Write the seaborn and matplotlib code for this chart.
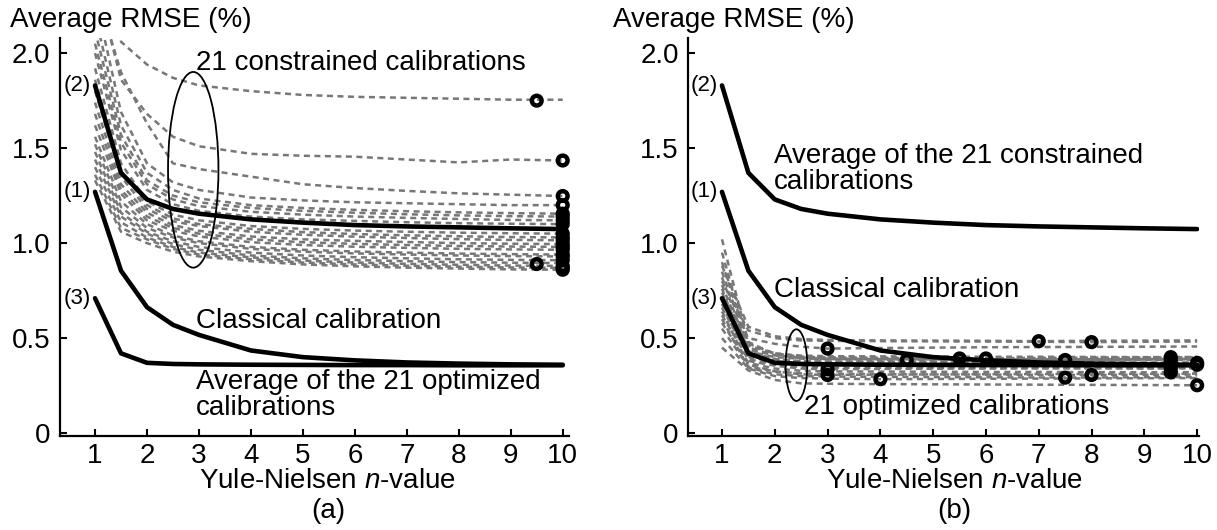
import matplotlib
matplotlib.use("Agg")
import matplotlib.pyplot as plt
from matplotlib.patches import Ellipse
import pandas as pd
import seaborn as sns

# Yule-Nielsen n-values at which every calibration was evaluated
n_values = [1, 1.5, 2, 2.5, 3, 4, 5, 6, 7, 8, 9, 10]

# Reference curves (average RMSE, %)
classical = [1.27, 0.855, 0.663, 0.57, 0.517, 0.435, 0.40, 0.383, 0.372, 0.366, 0.362, 0.36]
avg_constrained = [1.83, 1.37, 1.23, 1.18, 1.155, 1.125, 1.108, 1.095, 1.088, 1.083, 1.078, 1.074]
avg_optimized = [0.71, 0.42, 0.37, 0.364, 0.362, 0.36, 0.359, 0.358, 0.358, 0.357, 0.357, 0.357]

# 21 constrained calibrations
constrained_runs = [
    [3.00, 2.06, 1.94, 1.87, 1.83, 1.80, 1.78, 1.77, 1.765, 1.76, 1.755, 1.755],
    [2.40, 1.86, 1.68, 1.56, 1.51, 1.47, 1.46, 1.455, 1.44, 1.425, 1.44, 1.435],
    [2.35, 1.90, 1.63, 1.42, 1.39, 1.35, 1.31, 1.29, 1.275, 1.262, 1.255, 1.248],
    [2.30, 1.69, 1.42, 1.32, 1.28, 1.24, 1.225, 1.215, 1.21, 1.205, 1.20, 1.20],
    [2.20, 1.62, 1.37, 1.28, 1.235, 1.20, 1.185, 1.175, 1.168, 1.162, 1.158, 1.155],
    [2.12, 1.57, 1.33, 1.25, 1.215, 1.185, 1.17, 1.16, 1.152, 1.146, 1.142, 1.14],
    [2.05, 1.53, 1.31, 1.23, 1.195, 1.165, 1.15, 1.14, 1.133, 1.127, 1.122, 1.12],
    [2.00, 1.49, 1.28, 1.205, 1.17, 1.14, 1.125, 1.117, 1.11, 1.105, 1.102, 1.10],
    [1.92, 1.42, 1.22, 1.15, 1.12, 1.09, 1.075, 1.066, 1.06, 1.055, 1.052, 1.05],
    [1.86, 1.38, 1.20, 1.13, 1.10, 1.075, 1.058, 1.048, 1.041, 1.036, 1.032, 1.03],
    [1.80, 1.35, 1.18, 1.115, 1.09, 1.06, 1.044, 1.034, 1.027, 1.021, 1.017, 1.015],
    [1.74, 1.31, 1.16, 1.095, 1.065, 1.035, 1.02, 1.012, 1.006, 1.00, 0.997, 0.995],
    [1.68, 1.28, 1.14, 1.08, 1.05, 1.02, 1.005, 0.996, 0.99, 0.985, 0.982, 0.98],
    [1.62, 1.26, 1.12, 1.065, 1.035, 1.005, 0.99, 0.981, 0.975, 0.97, 0.967, 0.965],
    [1.56, 1.22, 1.10, 1.04, 1.01, 0.98, 0.965, 0.956, 0.95, 0.945, 0.942, 0.94],
    [1.52, 1.19, 1.08, 1.03, 1.00, 0.97, 0.955, 0.946, 0.94, 0.935, 0.932, 0.93],
    [1.48, 1.16, 1.06, 1.01, 0.98, 0.95, 0.935, 0.926, 0.92, 0.915, 0.912, 0.91],
    [1.44, 1.14, 1.05, 0.995, 0.965, 0.935, 0.92, 0.911, 0.905, 0.90, 0.897, 0.895],
    [1.40, 1.11, 1.03, 0.98, 0.95, 0.925, 0.908, 0.898, 0.891, 0.886, 0.882, 0.88],
    [1.36, 1.08, 1.02, 0.97, 0.94, 0.915, 0.898, 0.888, 0.881, 0.876, 0.872, 0.87],
    [1.33, 1.06, 1.00, 0.955, 0.93, 0.905, 0.888, 0.878, 0.871, 0.866, 0.862, 0.86],
]
# Minimum of each constrained calibration
constrained_min_n = [9.5, 10, 10, 10, 10, 10, 10, 10, 10, 10, 10,
                     10, 10, 10, 10, 10, 10, 9.5, 10, 10, 10]
constrained_min_rmse = [1.75, 1.435, 1.248, 1.20, 1.155, 1.14, 1.12, 1.10, 1.05, 1.03, 1.015,
                        0.995, 0.98, 0.965, 0.94, 0.93, 0.91, 0.89, 0.88, 0.87, 0.86]

# 21 optimized calibrations
optimized_runs = [
    [0.88, 0.56, 0.51, 0.495, 0.49, 0.488, 0.487, 0.486, 0.484, 0.486, 0.487, 0.488],
    [0.80, 0.54, 0.50, 0.488, 0.486, 0.484, 0.483, 0.482, 0.481, 0.479, 0.481, 0.482],
    [0.72, 0.50, 0.47, 0.455, 0.445, 0.448, 0.45, 0.452, 0.453, 0.454, 0.455, 0.456],
    [0.95, 0.47, 0.42, 0.402, 0.398, 0.396, 0.394, 0.394, 0.396, 0.397, 0.398, 0.399],
    [1.02, 0.48, 0.415, 0.402, 0.399, 0.397, 0.395, 0.393, 0.395, 0.396, 0.397, 0.398],
    [0.85, 0.45, 0.41, 0.395, 0.389, 0.386, 0.386, 0.387, 0.388, 0.389, 0.39, 0.391],
    [0.78, 0.44, 0.41, 0.398, 0.392, 0.39, 0.389, 0.388, 0.387, 0.386, 0.388, 0.389],
    [0.90, 0.46, 0.42, 0.408, 0.405, 0.404, 0.403, 0.402, 0.402, 0.401, 0.40, 0.401],
    [0.74, 0.43, 0.40, 0.392, 0.39, 0.389, 0.388, 0.387, 0.387, 0.386, 0.385, 0.386],
    [0.70, 0.42, 0.39, 0.378, 0.376, 0.374, 0.373, 0.372, 0.372, 0.371, 0.37, 0.371],
    [0.82, 0.43, 0.39, 0.378, 0.376, 0.375, 0.374, 0.373, 0.372, 0.371, 0.371, 0.37],
    [0.66, 0.41, 0.38, 0.368, 0.366, 0.365, 0.364, 0.363, 0.362, 0.361, 0.361, 0.36],
    [0.76, 0.40, 0.375, 0.362, 0.36, 0.359, 0.358, 0.357, 0.357, 0.356, 0.355, 0.356],
    [0.62, 0.39, 0.36, 0.348, 0.345, 0.344, 0.343, 0.342, 0.342, 0.341, 0.34, 0.341],
    [0.68, 0.38, 0.355, 0.34, 0.336, 0.338, 0.339, 0.34, 0.341, 0.342, 0.342, 0.343],
    [0.58, 0.37, 0.34, 0.328, 0.325, 0.324, 0.323, 0.322, 0.322, 0.321, 0.32, 0.321],
    [0.64, 0.36, 0.325, 0.31, 0.306, 0.308, 0.309, 0.31, 0.311, 0.312, 0.312, 0.313],
    [0.55, 0.35, 0.325, 0.314, 0.312, 0.31, 0.309, 0.308, 0.307, 0.306, 0.307, 0.308],
    [0.60, 0.345, 0.31, 0.30, 0.298, 0.296, 0.295, 0.294, 0.293, 0.293, 0.294, 0.295],
    [0.50, 0.34, 0.30, 0.29, 0.287, 0.284, 0.285, 0.286, 0.287, 0.288, 0.289, 0.29],
    [0.45, 0.33, 0.28, 0.262, 0.26, 0.258, 0.257, 0.256, 0.255, 0.254, 0.253, 0.252],
]
# Minimum of each optimized calibration
optimized_min_n = [7, 8, 3, 5.5, 6, 4.5, 7.5, 9.5, 9.5, 9.5, 10,
                   10, 9.5, 9.5, 3, 9.5, 3, 8, 7.5, 4, 10]
optimized_min_rmse = [0.484, 0.479, 0.445, 0.393, 0.393, 0.385, 0.385, 0.40, 0.385, 0.37, 0.37,
                      0.36, 0.355, 0.34, 0.336, 0.32, 0.306, 0.306, 0.292, 0.284, 0.252]

x_ticks = [1, 2, 3, 4, 5, 6, 7, 8, 9, 10]
y_ticks = [0, 0.5, 1.0, 1.5, 2.0]
y_tick_labels = ["0", "0.5", "1.0", "1.5", "2.0"]

GRAY = "#777777"
FS = 20
DASH = (0, (2.4, 1.8))


def runs_frame(runs):
    rows = [(i, n, v) for i, run in enumerate(runs) for n, v in zip(n_values, run)]
    return pd.DataFrame(rows, columns=["run", "n", "rmse"])


sns.set_theme(style="white")
plt.rcParams["font.family"] = ["Liberation Sans", "DejaVu Sans"]
plt.rcParams["text.color"] = "black"
plt.rcParams["mathtext.fontset"] = "custom"
plt.rcParams["mathtext.rm"] = "Liberation Sans"
plt.rcParams["mathtext.it"] = "Liberation Sans:italic"

fig = plt.figure(figsize=(12.17, 5.30), dpi=100)
ax_a = fig.add_axes([0.0493, 0.1774, 0.4182, 0.751])
ax_b = fig.add_axes([0.5657, 0.1774, 0.4195, 0.751])


def style_axes(ax, xlim):
    ax.set_xlim(*xlim)
    ax.set_ylim(-0.015, 2.08)
    ax.set_xticks(x_ticks)
    ax.set_xticklabels([str(t) for t in x_ticks])
    ax.set_yticks(y_ticks)
    ax.set_yticklabels(y_tick_labels)
    ax.set_xlabel("")
    ax.set_ylabel("")
    for side in ("top", "right"):
        ax.spines[side].set_visible(False)
    for side in ("left", "bottom"):
        ax.spines[side].set_color("black")
        ax.spines[side].set_linewidth(1.6)
    ax.tick_params(direction="in", length=5, width=1.5, colors="black",
                   labelsize=FS, left=True, bottom=True)
    ax.tick_params(axis="y", pad=7)
    ax.tick_params(axis="x", pad=5)


def draw_mins(ax, xs, ys):
    sns.scatterplot(x=xs, y=ys, ax=ax, marker="o", s=49, color="black",
                    facecolors="none", edgecolor="black", linewidth=3.2,
                    clip_on=False, zorder=6, legend=False)


def draw_panel(ax, runs):
    sns.lineplot(data=runs_frame(runs), x="n", y="rmse", units="run",
                 estimator=None, color=GRAY, linewidth=1.8,
                 linestyle=DASH, ax=ax, legend=False, zorder=2)
    for curve in (avg_constrained, classical, avg_optimized):
        sns.lineplot(x=n_values, y=curve, color="black", linewidth=3.3, ax=ax, zorder=4)


# ---- (a) constrained calibrations ----
draw_panel(ax_a, constrained_runs)
draw_mins(ax_a, constrained_min_n, constrained_min_rmse)
ax_a.add_patch(Ellipse((2.89, 1.386), 0.97, 1.03, fill=False, edgecolor="black",
                       linewidth=1.3, zorder=5))
style_axes(ax_a, (0.326, 10.12))

ax_a.text(2.95, 1.95, "21 constrained calibrations", fontsize=FS, ha="left", va="center")
ax_a.text(2.95, 0.59, "Classical calibration", fontsize=FS, ha="left", va="center")
ax_a.text(2.95, 0.20, "Average of the 21 optimized\ncalibrations", fontsize=FS,
          ha="left", va="center", linespacing=1.0)

# ---- (b) optimized calibrations ----
draw_panel(ax_b, optimized_runs)
draw_mins(ax_b, optimized_min_n, optimized_min_rmse)
ax_b.add_patch(Ellipse((2.41, 0.358), 0.41, 0.377, fill=False, edgecolor="black",
                       linewidth=1.3, zorder=5))
style_axes(ax_b, (0.365, 10.035))

ax_b.text(1.99, 1.39, "Average of the 21 constrained\ncalibrations", fontsize=FS,
          ha="left", va="center", linespacing=1.0)
ax_b.text(1.99, 0.754, "Classical calibration", fontsize=FS, ha="left", va="center")
ax_b.text(2.55, 0.136, "21 optimized calibrations", fontsize=FS, ha="left", va="center")

# curve tags and panel labels
for ax in (ax_a, ax_b):
    ax.text(0.92, avg_constrained[0], "(2)", fontsize=16, ha="right", va="center")
    ax.text(0.92, classical[0], "(1)", fontsize=16, ha="right", va="center")
    ax.text(0.92, avg_optimized[0], "(3)", fontsize=16, ha="right", va="center")

ax_a.text(5.48, -0.113, "Yule-Nielsen $n$-value", fontsize=FS, ha="center", va="center",
          transform=ax_a.get_xaxis_transform())
ax_a.text(5.48, -0.188, "(a)", fontsize=FS, ha="center", va="center",
          transform=ax_a.get_xaxis_transform())
ax_b.text(5.41, -0.113, "Yule-Nielsen $n$-value", fontsize=FS, ha="center", va="center",
          transform=ax_b.get_xaxis_transform())
ax_b.text(5.41, -0.188, "(b)", fontsize=FS, ha="center", va="center",
          transform=ax_b.get_xaxis_transform())

fig.text(0.008, 0.962, "Average RMSE (%)", fontsize=FS, ha="left", va="center")
fig.text(0.5037, 0.962, "Average RMSE (%)", fontsize=FS, ha="left", va="center")

fig.savefig("out.png", dpi=100, facecolor="white")
